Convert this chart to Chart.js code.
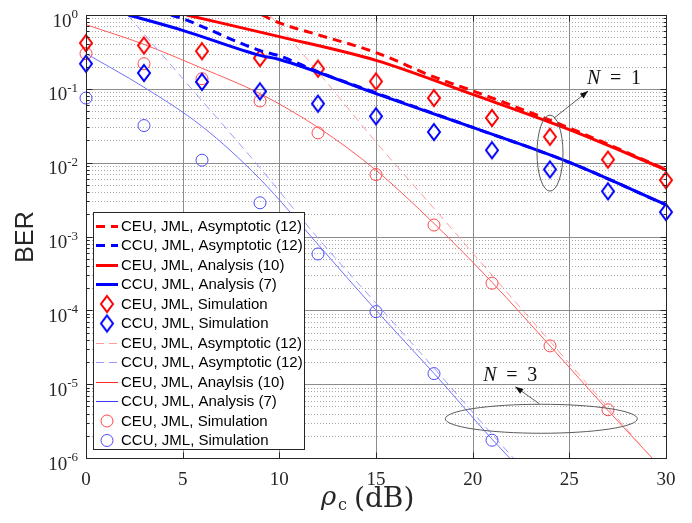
<!DOCTYPE html>
<html><head><meta charset="utf-8">
<script src="https://cdn.jsdelivr.net/npm/chart.js@4"></script>
<style>html,body{margin:0;padding:0;background:#fff}#wrap{width:692px;height:523px}</style>
</head><body><div id="wrap"><canvas id="c" width="692" height="523"></canvas></div>
<script>
// ---------- data ----------
const xTickValues = [0,5,10,15,20,25,30];
const yTickExponents = [0,-1,-2,-3,-4,-5,-6];

const simX = [0,3,6,9,12,15,18,21,24,27,30];
const ceuSimN1 = [0.416,0.387,0.324,0.261,0.1875,0.126,0.075,0.0403,0.0224,0.011,0.0058];
const ccuSimN1 = [0.219,0.164,0.124,0.0925,0.063,0.0425,0.026,0.01475,0.0081,0.0041,0.00214];
const simXceuN3 = [0,3,6,9,12,15,18,21,24,27];
const ceuSimN3 = [0.30,0.219,0.137,0.0685,0.0253,0.0069,0.00143,2.33e-4,3.3e-5,4.5e-6];
const simXccuN3 = [0,3,6,9,12,15,18,21];
const ccuSimN3 = [0.075,0.0318,0.0108,0.00286,5.8e-4,9.6e-5,1.39e-5,1.74e-6];

const ceuAsymN1X = [9.1,10,12,15,18,20,22,25,30];
const ceuAsymN1 = [1.0,0.78,0.54,0.31,0.145,0.094,0.060,0.0295,0.0081];
const ccuAsymN1X = [4.4,5,9,10,12,15,20,25,30];
const ccuAsymN1 = [1.0,0.89,0.33,0.28,0.17,0.088,0.030,0.0101,0.00268];
const ceuAnaN1X = [5.2,10,15,20,25,30];
const ceuAnaN1 = [1.0,0.51,0.243,0.084,0.028,0.0080];
const ccuAnaN1X = [2.2,5,9,10,15,20,25,30];
const ccuAnaN1 = [1.0,0.62,0.284,0.25,0.086,0.030,0.0101,0.0027];

const ceuAsymN3X = [9.5,12,15,18,21,24,27,30];
const ceuAsymN3 = [1.0,0.17,0.019,0.0024,3.0e-4,3.8e-5,4.8e-6,6e-7];
const ccuAsymN3X = [2.15,5,9,12,15,18,21,23];
const ccuAsymN3 = [1.0,0.138,0.0085,9.5e-4,1.25e-4,1.65e-5,2.1e-6,5.5e-7];
const ceuAnaN3X = [0,3,6,9,12,15,18,21,24,27,30];
const ceuAnaN3 = [0.74,0.40,0.19,0.086,0.030,0.0079,0.0015,2.4e-4,3.3e-5,4.4e-6,6.3e-7];
const ccuAnaN3X = [0,3,6,9,12,15,18,21,23];
const ccuAnaN3 = [0.30,0.105,0.031,0.0060,7.8e-4,1.0e-4,1.4e-5,1.8e-6,5e-7];

const labels = [
 'CEU, JML, Asymptotic (12)','CCU, JML, Asymptotic (12)',
 'CEU, JML, Analysis (10)','CCU, JML, Analysis (7)',
 'CEU, JML, Simulation','CCU, JML, Simulation',
 'CEU, JML, Asymptotic (12)','CCU, JML, Asymptotic (12)',
 'CEU, JML, Anaylsis (10)','CCU, JML, Analysis (7)',
 'CEU, JML, Simulation','CCU, JML, Simulation'];

// annotation anchors in data units
const n1Group = {x:24};
const n3Ellipse = {x:23.55, y:3.4e-6};

// ---------- helpers ----------
const pts = (xs, ys) => xs.map((v,i)=>({x:v, y:ys[i]}));
function diamondImg(color, w, h, lw){
  const c=document.createElement('canvas'); c.width=w+lw*2+2; c.height=h+lw*2+2;
  const g=c.getContext('2d'); const cx=c.width/2, cy=c.height/2;
  g.strokeStyle=color; g.lineWidth=lw; g.lineJoin='miter';
  g.beginPath(); g.moveTo(cx,cy-h/2); g.lineTo(cx+w/2,cy); g.lineTo(cx,cy+h/2); g.lineTo(cx-w/2,cy); g.closePath(); g.stroke();
  return c;
}
const redD = diamondImg('#ff0000',12,16,2);
const blueD = diamondImg('#0000ff',12,16,2);

function lineDs(label, data, color, width, dash, legendColor){
  return {label, data, borderColor:color, borderWidth:width, borderDash:dash||[], pointRadius:0,
    fill:false, cubicInterpolationMode:'monotone', kind:'line', legendColor: legendColor||color};
}
function markDs(label, data, color, style, r, bw){
  return {label, data, borderColor:color, backgroundColor:'rgba(0,0,0,0)', showLine:false,
    pointStyle:style, pointRadius:r, pointBorderWidth:bw, clip:false, kind:'mark'};
}

const datasets = [
  lineDs(labels[0], pts(ceuAsymN1X,ceuAsymN1), '#ff0000', 3, [9,6]),
  lineDs(labels[1], pts(ccuAsymN1X,ccuAsymN1), '#0000ff', 3, [9,6]),
  lineDs(labels[2], pts(ceuAnaN1X,ceuAnaN1), '#ff0000', 3),
  lineDs(labels[3], pts(ccuAnaN1X,ccuAnaN1), '#0000ff', 3),
  markDs(labels[4], pts(simX,ceuSimN1), '#ff0000', redD, 8, 2),
  markDs(labels[5], pts(simX,ccuSimN1), '#0000ff', blueD, 8, 2),
  lineDs(labels[6], pts(ceuAsymN3X,ceuAsymN3), '#ff9c9c', 1, [8,5]),
  lineDs(labels[7], pts(ccuAsymN3X,ccuAsymN3), '#9c9cff', 1, [8,5]),
  lineDs(labels[8], pts(ceuAnaN3X,ceuAnaN3), '#ff5a5a', 1, null, '#ff2a2a'),
  lineDs(labels[9], pts(ccuAnaN3X,ccuAnaN3), '#7070ff', 1, null, '#3a3aff'),
  markDs(labels[10], pts(simXceuN3,ceuSimN3), '#ff4848', 'circle', 6, 1),
  markDs(labels[11], pts(simXccuN3,ccuSimN3), '#4c4cff', 'circle', 6, 1),
];

function hline(ctx,x1,x2,y){ctx.beginPath();ctx.moveTo(x1,y);ctx.lineTo(x2,y);ctx.stroke();}
function vline(ctx,x,y1,y2){ctx.beginPath();ctx.moveTo(x,y1);ctx.lineTo(x,y2);ctx.stroke();}
function arrow(ctx,x1,y1,x2,y2){
  ctx.beginPath();ctx.moveTo(x1,y1);ctx.lineTo(x2,y2);ctx.stroke();
  const ang=Math.atan2(y2-y1,x2-x1), L=8, W=3;
  ctx.beginPath();ctx.moveTo(x2,y2);
  ctx.lineTo(x2-L*Math.cos(ang)+W*Math.sin(ang), y2-L*Math.sin(ang)-W*Math.cos(ang));
  ctx.lineTo(x2-L*Math.cos(ang)-W*Math.sin(ang), y2-L*Math.sin(ang)+W*Math.cos(ang));
  ctx.closePath();ctx.fill();
}
function nLabel(ctx,x,y,num){
  ctx.fillStyle='#111'; ctx.textBaseline='alphabetic'; ctx.textAlign='left';
  ctx.font="italic 20px 'Liberation Serif'"; ctx.fillText('N',x,y);
  ctx.font="20px 'Liberation Serif'"; ctx.fillText('=',x+23,y); ctx.fillText(String(num),x+44,y);
}

const frame = {
  id:'frame',
  beforeDatasetsDraw(chart){
    const {ctx, chartArea:a, scales:{x,y}} = chart;
    ctx.save(); ctx.lineWidth=1;
    ctx.strokeStyle='#a8a8a8'; ctx.setLineDash([1,2]);
    for(let e=-6;e<0;e++) for(let m=2;m<=9;m++){
      const py=Math.round(y.getPixelForValue(m*Math.pow(10,e)))+0.5; hline(ctx,a.left,a.right,py);
    }
    ctx.setLineDash([]); ctx.strokeStyle='#8c8c8c';
    for(const e of yTickExponents){ if(e===0||e===-6) continue;
      const py=Math.round(y.getPixelForValue(Math.pow(10,e)))+0.5; hline(ctx,a.left,a.right,py);}
    for(const t of xTickValues){ if(t===0||t===30) continue;
      const px=Math.round(x.getPixelForValue(t))+0.5; vline(ctx,px,a.top,a.bottom);}
    ctx.restore();
  },
  afterDatasetsDraw(chart){
    const {ctx, chartArea:a, scales:{x,y}} = chart;
    ctx.save();
    // axes box and ticks
    ctx.strokeStyle='#262626'; ctx.lineWidth=1;
    const L=Math.round(a.left)+0.5, R=Math.round(a.right)+0.5, T=Math.round(a.top)+0.5, B=Math.round(a.bottom)+0.5;
    ctx.strokeRect(L,T,R-L,B-T);
    for(let e=-6;e<=0;e++){
      const py=Math.round(y.getPixelForValue(Math.pow(10,e)))+0.5;
      hline(ctx,L,L+6,py); hline(ctx,R-6,R,py);
      if(e<0) for(let m=2;m<=9;m++){
        const q=Math.round(y.getPixelForValue(m*Math.pow(10,e)))+0.5;
        hline(ctx,L,L+3,q); hline(ctx,R-3,R,q);
      }
    }
    for(const t of xTickValues){
      const px=Math.round(x.getPixelForValue(t))+0.5; vline(ctx,px,B-6,B); vline(ctx,px,T,T+6);
    }
    // tick labels
    ctx.fillStyle='#262626'; ctx.textBaseline='alphabetic';
    for(const e of yTickExponents){
      const gy=y.getPixelForValue(Math.pow(10,e));
      const ex=String(e);
      ctx.font="13px 'Liberation Serif'"; const we=ctx.measureText(ex).width;
      ctx.font="19px 'Liberation Serif'"; const w10=ctx.measureText('10').width;
      const right=78;
      ctx.textAlign='left';
      ctx.fillText('10', right-we-w10, gy+11.5);
      ctx.font="13px 'Liberation Serif'"; ctx.fillText(ex, right-we, gy+3);
    }
    ctx.font="19px 'Liberation Serif'"; ctx.textAlign='center';
    for(const t of xTickValues){ ctx.fillText(String(t), x.getPixelForValue(t), 485); }
    // axis titles
    ctx.textAlign='left';
    ctx.font="italic 26px 'DejaVu Serif'"; ctx.fillText('\u03C1', 321, 505);
    ctx.font="16px 'DejaVu Serif'"; ctx.fillText('c', 338, 510);
    ctx.font="28px 'DejaVu Serif'"; ctx.fillText('(dB)', 354, 507);
    ctx.save(); ctx.translate(33, 237); ctx.rotate(-Math.PI/2);
    ctx.font="25px 'Liberation Sans'"; ctx.textAlign='center'; ctx.fillText('BER',0,0); ctx.restore();

    // annotations N=1
    const cx1=x.getPixelForValue(n1Group.x);
    const ya=y.getPixelForValue(ceuSimN1[simX.indexOf(n1Group.x)]), yb=y.getPixelForValue(ccuSimN1[simX.indexOf(n1Group.x)]);
    const cy1=(ya+yb)/2;
    ctx.strokeStyle='#5a5a5a'; ctx.lineWidth=1;
    ctx.beginPath(); ctx.ellipse(cx1,cy1,13,38,0,0,Math.PI*2); ctx.stroke();
    ctx.strokeStyle='#333'; ctx.fillStyle='#111'; ctx.lineWidth=0.8;
    arrow(ctx,cx1+4,cy1-35,cx1+38,cy1-62);
    nLabel(ctx,cx1+37,cy1-69,1);
    // annotations N=3
    const cx3=x.getPixelForValue(n3Ellipse.x), cy3=y.getPixelForValue(n3Ellipse.y);
    ctx.strokeStyle='#5a5a5a'; ctx.lineWidth=1;
    ctx.beginPath(); ctx.ellipse(cx3,cy3,96,14.5,0,0,Math.PI*2); ctx.stroke();
    ctx.strokeStyle='#333'; ctx.fillStyle='#111'; ctx.lineWidth=0.8;
    arrow(ctx,cx3-2,cy3-15,cx3-26,cy3-32);
    nLabel(ctx,cx3-58,cy3-38,3);

    // legend
    const lx=93.5, ly=212.5, lw=211, lh=237, row=19.5, r0=226;
    ctx.fillStyle='#fff'; ctx.fillRect(lx,ly,lw,lh);
    ctx.strokeStyle='#262626'; ctx.lineWidth=1; ctx.strokeRect(lx,ly,lw,lh);
    chart.data.datasets.forEach((ds,i)=>{
      const yy=r0+i*row;
      if(ds.kind==='line'){
        const yl = ds.borderWidth%2 ? Math.floor(yy)+0.5 : Math.round(yy);
        ctx.strokeStyle=ds.legendColor; ctx.lineWidth=ds.borderWidth; ctx.setLineDash(ds.borderDash);
        hline(ctx,96,118,yl); ctx.setLineDash([]);
      } else if(ds.pointStyle==='circle'){
        ctx.strokeStyle=ds.borderColor; ctx.lineWidth=ds.pointBorderWidth;
        ctx.beginPath(); ctx.arc(107,yy,6,0,Math.PI*2); ctx.stroke();
      } else {
        ctx.drawImage(ds.pointStyle,107-ds.pointStyle.width/2,yy-ds.pointStyle.height/2);
      }
      ctx.fillStyle='#000'; ctx.font="15px 'Liberation Sans'"; ctx.textBaseline='middle'; ctx.textAlign='left';
      ctx.fillText(ds.label,121,yy+0.5);
    });
    ctx.restore();
  }
};

new Chart(document.getElementById('c'), {
  type:'line',
  data:{datasets},
  options:{
    responsive:false, animation:false, devicePixelRatio:1,
    layout:{padding:{left:86,right:26,top:15,bottom:65}},
    scales:{
      x:{type:'linear',min:0,max:30,display:false},
      y:{type:'logarithmic',min:1e-6,max:1,display:false}
    },
    plugins:{legend:{display:false},tooltip:{enabled:false}}
  },
  plugins:[frame]
});
</script></body></html>
